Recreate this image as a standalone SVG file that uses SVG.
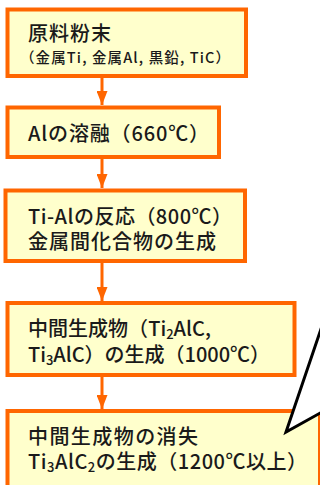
<svg xmlns="http://www.w3.org/2000/svg" width="320" height="485" viewBox="0 0 320 485">
<style>
.box{fill:#FFFFCC;stroke:#FF6600;stroke-width:4}
.t{font-family:"Noto Sans CJK JP","Noto Sans",sans-serif;font-size:20px;font-weight:500;fill:#1a1a1a}
.s{font-family:"Noto Sans CJK JP","Noto Sans",sans-serif;font-size:14.5px;font-weight:500;fill:#1a1a1a}
.arr{stroke:#FF6600;stroke-width:3;fill:none}
</style>
<defs>
<marker id="ah" viewBox="0 0 14 11" refX="14" refY="5.5" markerWidth="14" markerHeight="11" markerUnits="userSpaceOnUse" orient="auto">
<path d="M0,0 L14,5.5 L0,11 Z" fill="#FF6600"/>
</marker>
</defs>
<g id="connectors">
<line class="arr" x1="102" y1="78" x2="102" y2="105" marker-end="url(#ah)"/>
<line class="arr" x1="102" y1="159" x2="102" y2="188" marker-end="url(#ah)"/>
<line class="arr" x1="102" y1="263" x2="102" y2="301" marker-end="url(#ah)"/>
<line class="arr" x1="102" y1="377" x2="102" y2="409" marker-end="url(#ah)"/>
</g>
<g id="n1">
<rect class="box" x="7.5" y="9.5" width="238.5" height="66.5"/>
<text class="t" x="28" y="41" textLength="83" lengthAdjust="spacing">原料粉末</text>
<text class="s" x="20" y="63" textLength="210" lengthAdjust="spacing">（金属Ti, 金属Al, 黒鉛, TiC）</text>
</g>
<g id="n2">
<rect class="box" x="7.5" y="107.5" width="211.5" height="49.5"/>
<text class="t" x="28" y="141" textLength="181" lengthAdjust="spacing">Alの溶融（660℃）</text>
</g>
<g id="n3">
<rect class="box" x="5.5" y="190.5" width="239.5" height="70.5"/>
<text class="t" x="28" y="224" textLength="204" lengthAdjust="spacing">Ti-Alの反応（800℃）</text>
<text class="t" x="28" y="249" textLength="188" lengthAdjust="spacing">金属間化合物の生成</text>
</g>
<g id="n4">
<rect class="box" x="7.5" y="303" width="287" height="72"/>
<text class="t" x="28" y="336" textLength="183" lengthAdjust="spacing">中間生成物（Ti<tspan font-size="13" dy="3">2</tspan><tspan dy="-3">AlC,</tspan></text>
<text class="t" x="28" y="362" textLength="242" lengthAdjust="spacing">Ti<tspan font-size="13" dy="3">3</tspan><tspan dy="-3">AlC）の生成（1000℃）</tspan></text>
</g>
<g id="n5">
<rect class="box" x="7.5" y="411" width="312.5" height="80"/>
<text class="t" x="28" y="444" textLength="170" lengthAdjust="spacing">中間生成物の消失</text>
<text class="t" x="28" y="469" textLength="279" lengthAdjust="spacing">Ti<tspan font-size="13" dy="3">3</tspan><tspan dy="-3">AlC</tspan><tspan font-size="13" dy="3">2</tspan><tspan dy="-3">の生成（1200℃以上）</tspan></text>
</g>
<g id="callout">
<polygon points="322,326 286,432 322,412" fill="#FFFFFF" stroke="#000000" stroke-width="3" stroke-linejoin="miter"/>
</g>
</svg>
